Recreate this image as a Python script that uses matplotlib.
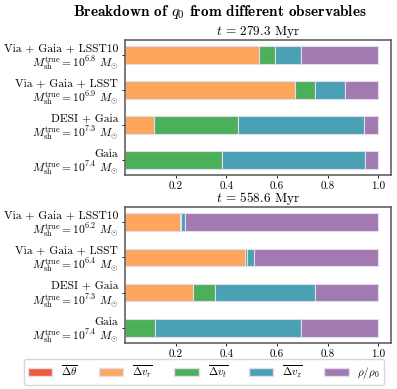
import numpy as np
import matplotlib
matplotlib.use("Agg")
import matplotlib.pyplot as plt
from matplotlib.patches import Patch

plt.rcParams['font.family'] = 'serif'
plt.rcParams['font.serif'] = ['cmr10']
plt.rcParams['mathtext.fontset'] = 'cm'
plt.rcParams['axes.unicode_minus'] = False
plt.rcParams['axes.formatter.use_mathtext'] = True

# rows from bottom to top
surveys = ["Gaia", "DESI + Gaia", "Via + Gaia + LSST", "Via + Gaia + LSST10"]
mass_t1 = ["7.4", "7.3", "6.9", "6.8"]
mass_t2 = ["7.4", "7.3", "6.4", "6.2"]
obs_labels = [r"$\overline{\Delta\theta}$", r"$\overline{\Delta v_r}$",
              r"$\overline{\Delta v_t}$", r"$\overline{\Delta v_z}$", r"$\rho/\rho_0$"]
colors = ['#ef5a3c', '#fda65c', '#4cb05a', '#4aa0b4', '#a07ab0']

# fractions per observable: dtheta, dvr, dvt, dvz, rho
t1_theta = [0.0, 0.0, 0.0, 0.0]
t1_vr = [0.0, 0.113, 0.672, 0.527]
t1_vt = [0.381, 0.335, 0.078, 0.066]
t1_vz = [0.565, 0.496, 0.117, 0.101]
t1_rho = [0.054, 0.056, 0.133, 0.306]

t2_theta = [0.0, 0.0, 0.0, 0.0]
t2_vr = [0.0, 0.270, 0.475, 0.219]
t2_vt = [0.119, 0.084, 0.005, 0.002]
t2_vz = [0.576, 0.396, 0.029, 0.015]
t2_rho = [0.305, 0.250, 0.491, 0.764]

fig = plt.figure(figsize=(3.97, 3.89), dpi=100)
ax1 = fig.add_axes([125/397, 1-175/389, 266/397, 135/389])
ax2 = fig.add_axes([125/397, 1-343/389, 266/397, 136/389])

def draw(ax, parts, masses, title):
    y = np.arange(len(surveys))
    left = np.zeros(len(surveys))
    for vals, c in zip(parts, colors):
        ax.barh(y, vals, left=left, height=0.5, color=c,
                edgecolor='#e2dcee', linewidth=0.8)
        left += np.array(vals)
    ax.set_yticks(y)
    ax.set_yticklabels([s + "\n" + r"$M_{\rm sh}^{\rm true} = 10^{%s}\ M_{\odot}$" % m
                        for s, m in zip(surveys, masses)], fontsize=8.3, linespacing=1.05)
    ax.set_xticks([0.2, 0.4, 0.6, 0.8, 1.0])
    ax.set_xticklabels(["0.2", "0.4", "0.6", "0.8", "1.0"], fontsize=8)
    ax.set_xlim(0, 1.05)
    ax.tick_params(length=2.5, width=0.6, pad=2.5)
    for sp in ax.spines.values():
        sp.set_color('#555555')
        sp.set_linewidth(1.1)
    ax.set_title(title, fontsize=9.5, pad=2)

draw(ax1, [t1_theta, t1_vr, t1_vt, t1_vz, t1_rho], mass_t1, r"$t$ = 279.3 Myr")
draw(ax2, [t2_theta, t2_vr, t2_vt, t2_vz, t2_rho], mass_t2, r"$t$ = 558.6 Myr")

fig.text(220/397, 1-12/389, r"Breakdown of $q_0$ from different observables",
         ha='center', va='center', fontsize=11, family='cmb10')

handles = [Patch(facecolor=c, edgecolor='#e2dcee', label=l) for c, l in zip(colors, obs_labels)]
fig.legend(handles=handles, loc='center', ncol=5, fontsize=8,
           bbox_to_anchor=(204/397, 1-372/389), handlelength=2.2, handleheight=0.7,
           columnspacing=1.9, handletextpad=0.8, frameon=True, fancybox=True,
           edgecolor='#cccccc', borderpad=0.4)

plt.savefig("out.png", dpi=100)
